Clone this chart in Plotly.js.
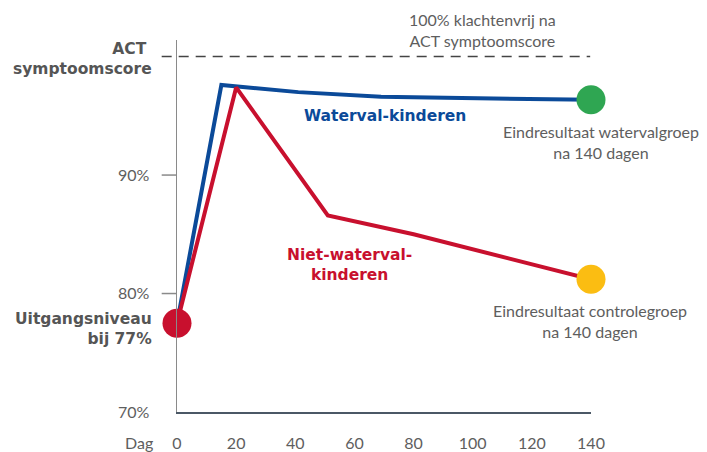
<!DOCTYPE html>
<html><head><meta charset="utf-8">
<script src="https://cdn.plot.ly/plotly-3.0.1.min.js"></script>
<style>html,body{margin:0;padding:0;background:#fff}#chart{width:707px;height:452px}</style>
</head><body><div id="chart"></div>
<script>
// Data
const daysWaterval = [0, 15, 41, 69, 140];
const scoreWaterval = [77.5, 97.6, 97.0, 96.6, 96.35];
const daysNiet = [0, 20, 51, 80, 140];
const scoreNiet = [77.5, 97.4, 86.6, 85.0, 81.2];
const startDay = [0];
const startScore = [77.5];
const endDay = [140];
const endWaterval = [96.35];
const endNiet = [81.2];
const yTickVals = [70, 80, 90];
const yTickText = ['70%', '80%', '90%'];
const xTickVals = [0, 20, 40, 60, 80, 100, 120, 140];
const actLevel = 100;

const FONT = 'Lato, "Noto Sans", sans-serif';
const BOLD = '"DejaVu Sans", sans-serif';
const GRAY = '#5e5e5e';
const BLUE = '#0b4a99';
const RED = '#c8102e';

const traces = [
  {x: daysWaterval, y: scoreWaterval, mode: 'lines', line: {color: BLUE, width: 4}, cliponaxis: false, hoverinfo: 'skip'},
  {x: daysNiet, y: scoreNiet, mode: 'lines', line: {color: RED, width: 4}, cliponaxis: false, hoverinfo: 'skip'},
  {x: startDay, y: startScore, mode: 'markers', marker: {color: '#c8102e', size: 29}, cliponaxis: false},
  {x: endDay, y: endWaterval, mode: 'markers', marker: {color: '#2fa652', size: 29}, cliponaxis: false},
  {x: endDay, y: endNiet, mode: 'markers', marker: {color: '#fbbd12', size: 29}, cliponaxis: false}
];

const ann = (x, y, text, opts) => Object.assign({x, y, xref: 'paper', yref: 'paper', text, showarrow: false,
  xanchor: 'center', yanchor: 'middle',
  font: {family: FONT, size: 16, color: GRAY}}, opts || {});

const layout = {
  width: 707, height: 452,
  margin: {l: 177, r: 116, t: 40, b: 40},
  paper_bgcolor: '#fff', plot_bgcolor: '#fff',
  showlegend: false,
  xaxis: {range: [0, 140], tickvals: xTickVals, showgrid: false, zeroline: false,
    showline: true, linecolor: '#4b5866', linewidth: 1.5, ticks: '',
    ticklabelstandoff: 16, tickfont: {family: FONT, size: 16, color: GRAY}},
  yaxis: {range: [70, 101.4], tickvals: yTickVals, ticktext: yTickText, showgrid: false, zeroline: false,
    showline: true, linecolor: '#8a8a8a', linewidth: 1.5, ticks: '',
    ticklabelstandoff: 23, tickfont: {family: FONT, size: 16, color: GRAY}},
  shapes: [
    {type: 'line', xref: 'paper', yref: 'y', x0: -0.037, x1: 0.998, y0: actLevel, y1: actLevel,
      line: {color: '#444', width: 1.5, dash: '10px,7px'}},
    {type: 'line', xref: 'paper', yref: 'y', x0: -0.037, x1: 0, y0: 90, y1: 90, line: {color: '#8a8a8a', width: 1.5}},
    {type: 'line', xref: 'paper', yref: 'y', x0: -0.037, x1: 0, y0: 80, y1: 80, line: {color: '#8a8a8a', width: 1.5}}
  ],
  annotations: [
    ann(0.739, 1.0256, '100% klachtenvrij na<br>ACT symptoomscore', {}),
    ann(-0.0556, 0.9502, 'ACT <br>symptoomscore', {xanchor: 'right', align: 'right',
      font: {family: BOLD, size: 15.5, color: '#555', weight: 'bold'}}),
    ann(-0.0556, 0.2225, 'Uitgangsniveau<br>bij 77%', {xanchor: 'right', align: 'right',
      font: {family: BOLD, size: 15.5, color: '#555', weight: 'bold'}}),
    ann(0.5024, 0.7962, 'Waterval-kinderen', {font: {family: BOLD, size: 15.5, color: BLUE, weight: 'bold'}}),
    ann(0.4155, 0.3961, 'Niet-waterval-<br>kinderen', {font: {family: BOLD, size: 15.5, color: RED, weight: 'bold'}}),
    ann(1.0242, 0.727, 'Eindresultaat watervalgroep<br>na 140 dagen', {}),
    ann(0.9976, 0.2459, 'Eindresultaat controlegroep<br>na 140 dagen', {}),
    ann(-0.0918, -0.0815, 'Dag', {})
  ]
};

Plotly.newPlot('chart', traces, layout, {staticPlot: true});
</script>
</body></html>
